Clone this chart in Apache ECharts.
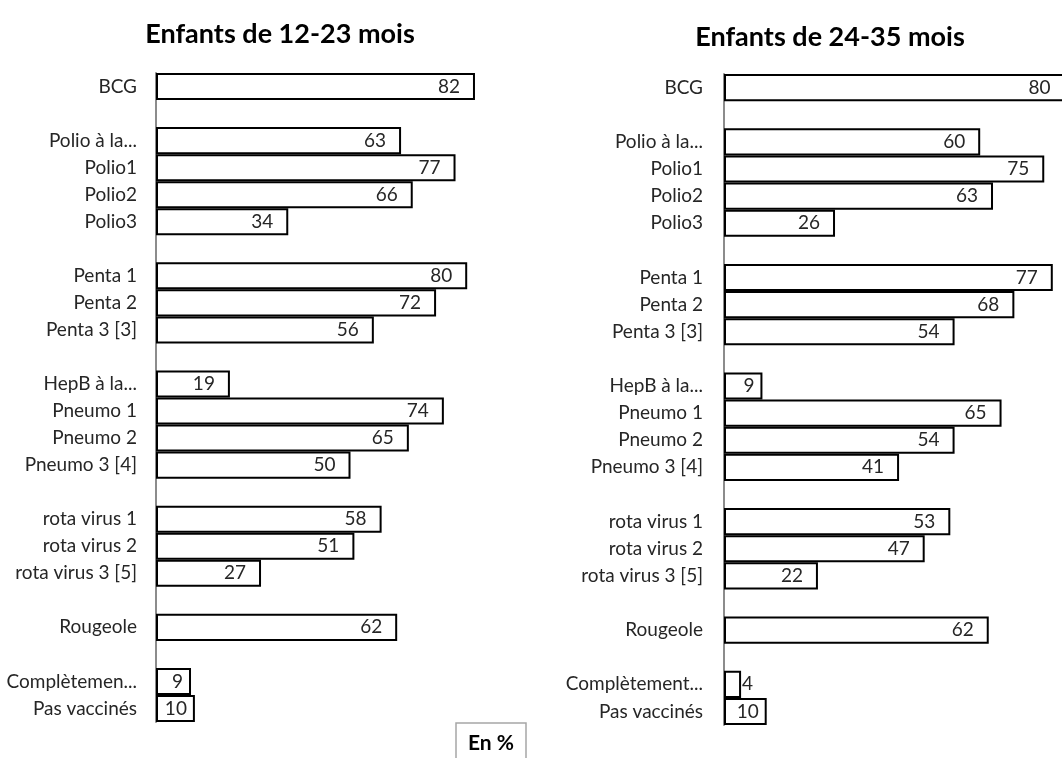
<!DOCTYPE html>
<html>
<head>
<meta charset="utf-8">
<script src="https://cdn.jsdelivr.net/npm/echarts@6/dist/echarts.min.js"></script>
<style>
html,body{margin:0;padding:0;background:#fff;}
#chart{width:1062px;height:758px;}
</style>
</head>
<body>
<div id="chart"></div>
<script>
// Data
const titleLeft = 'Enfants de 12-23 mois';
const titleRight = 'Enfants de 24-35 mois';
const unitLabel = 'En %';
const categoriesLeft = ['BCG', '', 'Polio à la...', 'Polio1', 'Polio2', 'Polio3', '', 'Penta 1', 'Penta 2', 'Penta 3 [3]', '', 'HepB à la...', 'Pneumo 1', 'Pneumo 2', 'Pneumo 3 [4]', '', 'rota virus 1', 'rota virus 2', 'rota virus 3 [5]', '', 'Rougeole', '', 'Complètemen...', 'Pas vaccinés'];
const categoriesRight = ['BCG', '', 'Polio à la...', 'Polio1', 'Polio2', 'Polio3', '', 'Penta 1', 'Penta 2', 'Penta 3 [3]', '', 'HepB à la...', 'Pneumo 1', 'Pneumo 2', 'Pneumo 3 [4]', '', 'rota virus 1', 'rota virus 2', 'rota virus 3 [5]', '', 'Rougeole', '', 'Complètement...', 'Pas vaccinés'];
const valuesLeft = [82, null, 63, 77, 66, 34, null, 80, 72, 56, null, 19, 74, 65, 50, null, 58, 51, 27, null, 62, null, 9, 10];
const valuesRight = [80, null, 60, 75, 63, 26, null, 77, 68, 54, null, 9, 65, 54, 41, null, 53, 47, 22, null, 62, null, 4, 10];

const FONT = 'Lato';
const chart = echarts.init(document.getElementById('chart'), null, {renderer: 'canvas'});

function barData(vals) {
  return vals.map(v => {
    if (v === null) return null;
    if (v < 5) return {value: v, label: {position: 'right', distance: 1}};
    if (v <= 10) return {value: v, label: {distance: 8}};
    return v;
  });
}

function catAxis(idx, cats, margin) {
  return {
    type: 'category', gridIndex: idx, data: cats, inverse: true,
    axisLine: {show: true, lineStyle: {color: '#8c8c8c', width: 2}},
    axisTick: {show: false},
    axisLabel: {color: '#262626', fontFamily: FONT, fontSize: 19, margin: margin, interval: 0}
  };
}
function valAxis(idx) {
  return {
    type: 'value', gridIndex: idx, min: 0, max: 100,
    show: false, splitLine: {show: false}
  };
}
function barSeries(idx, vals) {
  return {
    type: 'bar', xAxisIndex: idx, yAxisIndex: idx,
    data: barData(vals), barCategoryGap: '0%',
    itemStyle: {color: '#ffffff', borderColor: '#000000', borderWidth: 2},
    label: {show: true, position: 'insideRight', distance: 15, color: '#262626', fontFamily: FONT, fontSize: 19},
    silent: true, animation: false, clip: false
  };
}

chart.setOption({
  animation: false,
  backgroundColor: '#ffffff',
  title: [
    {text: titleLeft, left: 275, top: 16, textAlign: 'center',
     textStyle: {fontFamily: FONT, fontWeight: 'bold', fontSize: 27, color: '#000'}},
    {text: titleRight, left: 825, top: 19, textAlign: 'center',
     textStyle: {fontFamily: FONT, fontWeight: 'bold', fontSize: 27, color: '#000'}},
    {text: unitLabel, left: 456, top: 723, padding: [10, 12, 10, 12],
     borderColor: '#a6a6a6', borderWidth: 1.5,
     textStyle: {fontFamily: FONT, fontWeight: 'bold', fontSize: 21, color: '#000'}}
  ],
  grid: [
    {left: 156, top: 73, width: 389, height: 649, containLabel: false, outerBoundsMode: 'none'},
    {left: 724, top: 74, width: 427, height: 651, containLabel: false, outerBoundsMode: 'none'}
  ],
  xAxis: [valAxis(0), valAxis(1)],
  yAxis: [catAxis(0, categoriesLeft, 19), catAxis(1, categoriesRight, 21)],
  series: [barSeries(0, valuesLeft), barSeries(1, valuesRight)]
});
</script>
</body>
</html>
